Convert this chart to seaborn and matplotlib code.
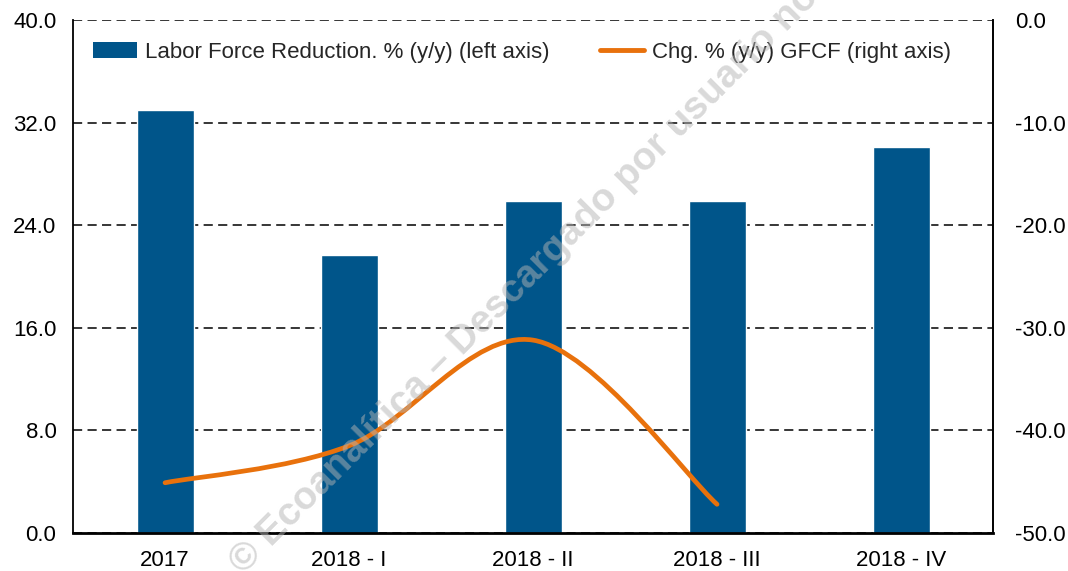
import matplotlib
matplotlib.use("Agg")
import matplotlib.pyplot as plt
import seaborn as sns
from matplotlib.path import Path
from matplotlib.patches import PathPatch, Patch
from matplotlib.lines import Line2D
from matplotlib.ticker import FormatStrFormatter

# ====== data ======
periods = ["2017", "2018 - I", "2018 - II", "2018 - III", "2018 - IV"]
labor_force_reduction = [33.0, 21.7, 25.9, 25.9, 30.1]     # left axis
gfcf_periods = ["2017", "2018 - I", "2018 - II", "2018 - III"]
gfcf_chg = [-45.1, -41.5, -31.2, -47.2]                      # right axis

bar_color = "#00558a"
line_color = "#e8710c"

sns.set_theme(style="white")
plt.rcParams["font.family"] = ["Liberation Sans", "DejaVu Sans"]

fig = plt.figure(figsize=(10.68, 5.71), dpi=100)
ax = fig.add_axes([0.0684, 0.0665, 0.8614, 0.8985])

sns.barplot(x=periods, y=labor_force_reduction, color=bar_color, width=0.31,
            saturation=1, ax=ax, zorder=2)
ax.set_ylim(0, 40)
ax.set_xlim(-0.5, len(periods) - 0.5)
ax.set_yticks(range(0, 41, 8))
ax.yaxis.set_major_formatter(FormatStrFormatter("%.1f"))
ax.yaxis.grid(True, color="black", lw=1.1, ls=(0, (6, 3.5)), zorder=1)
ax.set_axisbelow(True)
ax.set_xlabel("")
ax.set_ylabel("")
ax.tick_params(axis="y", length=0, pad=12, labelsize=16, colors="black")
ax.tick_params(axis="x", length=0, pad=12, labelsize=16, colors="black")
for side in ["left", "bottom"]:
    ax.spines[side].set_color("black")
    ax.spines[side].set_linewidth(1.3)
ax.spines["top"].set_visible(False)
ax.spines["bottom"].set_linewidth(2)

# right axis: smoothed line (Excel style) through the GFCF points
ax2 = ax.twinx()
ax2.set_ylim(-50, 0)
ax2.set_yticks(range(-50, 1, 10))
ax2.yaxis.set_major_formatter(FormatStrFormatter("%.1f"))
ax2.tick_params(axis="y", length=0, pad=16, labelsize=16, colors="black")
ax2.grid(False)
for side in ["left", "top", "bottom"]:
    ax2.spines[side].set_visible(False)
ax2.spines["right"].set_color("black")
ax2.spines["right"].set_linewidth(1.3)

pts = [(periods.index(p), v) for p, v in zip(gfcf_periods, gfcf_chg)]
verts = [pts[0]]
codes = [Path.MOVETO]
n = len(pts)
for i in range(n - 1):
    p0 = pts[max(i - 1, 0)]
    p1 = pts[i]
    p2 = pts[i + 1]
    p3 = pts[min(i + 2, n - 1)]
    c1 = (p1[0] + (p2[0] - p0[0]) / 6, p1[1] + (p2[1] - p0[1]) / 6)
    c2 = (p2[0] - (p3[0] - p1[0]) / 6, p2[1] - (p3[1] - p1[1]) / 6)
    verts += [c1, c2, p2]
    codes += [Path.CURVE4] * 3
ax2.add_patch(PathPatch(Path(verts, codes), facecolor="none", edgecolor=line_color,
                        lw=3.4, capstyle="round", zorder=3))

handles = [Patch(facecolor=bar_color, edgecolor="none"),
           Line2D([], [], color=line_color, lw=3.5)]
labels = ["Labor Force Reduction. % (y/y) (left axis)",
          "Chg. % (y/y) GFCF (right axis)"]
ax2.legend(handles, labels, loc="upper left", bbox_to_anchor=(0.0, 0.997),
           ncol=2, frameon=False, fontsize=16, handlelength=2.0,
           handleheight=0.7, handletextpad=0.36, columnspacing=2.25,
           borderaxespad=0.5)

# watermark
fig.text(0.221, 0.005, "© Ecoanalítica – Descargado por usuario no autorizado",
         rotation=45, rotation_mode="anchor", ha="left", va="center",
         fontsize=28, fontweight="bold", color="#b4b4b4", alpha=0.5, zorder=10)

fig.savefig("out.png", dpi=100)
